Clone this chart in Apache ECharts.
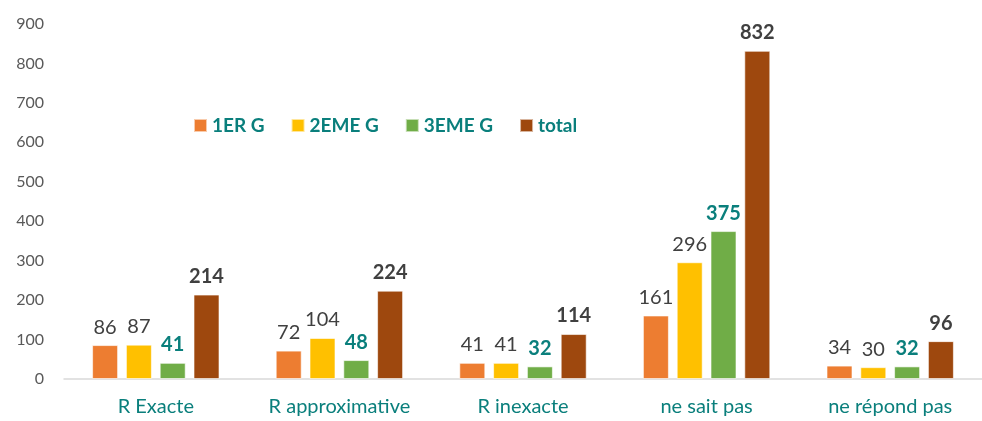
<!doctype html>
<html>
<head>
    <meta charset="UTF-8">
    <title>chart</title>
    <script src="https://cdn.jsdelivr.net/npm/echarts@6/dist/echarts.min.js"></script>
    <style>
        html, body { margin: 0; padding: 0; background: #fff; }
        #main { width: 982px; height: 421px; }
    </style>
</head>
<body>
<div id="main"></div>
<script>
    var categories = ['R Exacte', 'R approximative', 'R inexacte', 'ne sait pas', 'ne répond pas'];
    var seriesNames = ['1ER G', '2EME G', '3EME G', 'total'];
    var g1 = [86, 72, 41, 161, 34];
    var g2 = [87, 104, 41, 296, 30];
    var g3 = [41, 48, 32, 375, 32];
    var total = [214, 224, 114, 832, 96];
    var yTicks = [0, 900, 100];

    var colorList = ['#ED7D31', '#FFC000', '#70AD47', '#9E480E'];
    var teal = '#0A7F7C';
    var font = 'Lato';

    var labelStyles = [
        { color: '#404040', fontWeight: 'normal' },
        { color: '#404040', fontWeight: 'normal' },
        { color: teal, fontWeight: 'bold' },
        { color: '#404040', fontWeight: 'bold' }
    ];

    var myChart = echarts.init(document.getElementById('main'));
    var dataSets = [g1, g2, g3, total];
    var series = [];
    for (var i = 0; i < dataSets.length; i++) {
        series.push({
            name: seriesNames[i],
            type: 'bar',
            data: dataSets[i],
            barWidth: 26,
            barGap: '30%',
            itemStyle: { color: colorList[i], borderColor: 'rgba(255,255,255,0.6)', borderWidth: 1 },
            label: {
                show: true,
                position: 'top',
                distance: 8,
                fontFamily: font,
                fontSize: 20,
                color: labelStyles[i].color,
                fontWeight: labelStyles[i].fontWeight
            }
        });
    }

    var option = {
        animation: false,
        textStyle: { fontFamily: font },
        legend: {
            left: 188,
            top: 111,
            itemWidth: 13,
            itemHeight: 13,
            itemGap: 26,
            icon: 'rect',
            textStyle: { color: teal, fontWeight: 'bold', fontSize: 19, fontFamily: font },
            data: seriesNames
        },
        grid: { left: 64, right: 0, top: 24, bottom: 42, containLabel: false },
        xAxis: {
            type: 'category',
            data: categories,
            axisLine: { lineStyle: { color: '#D9D9D9', width: 1.5 } },
            axisTick: { show: false },
            axisLabel: { interval: 0, hideOverlap: false, color: teal, fontSize: 20, fontFamily: font, margin: 18 }
        },
        yAxis: {
            type: 'value',
            min: yTicks[0],
            max: yTicks[1],
            interval: yTicks[2],
            splitLine: { show: false },
            axisLine: { show: false },
            axisTick: { show: false },
            axisLabel: { color: '#595959', fontSize: 16, fontFamily: font, margin: 20 }
        },
        series: series
    };
    myChart.setOption(option);
</script>
</body>
</html>
